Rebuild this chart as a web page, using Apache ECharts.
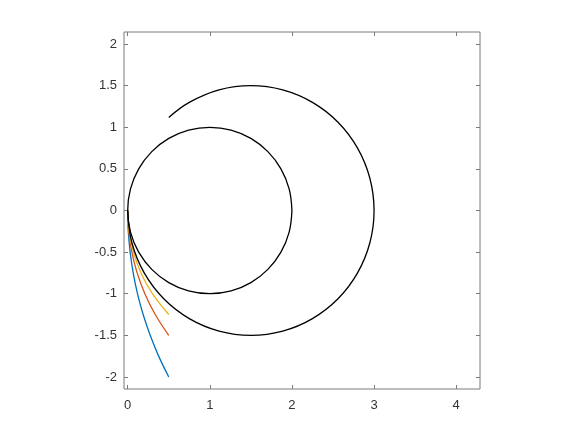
<!DOCTYPE html>
<html>
<head>
<meta charset="utf-8">
<script src="https://cdn.jsdelivr.net/npm/echarts@6/dist/echarts.min.js"></script>
<style>
html, body { margin: 0; padding: 0; background: #fff; }
#chart { width: 584px; height: 438px; }
</style>
</head>
<body>
<div id="chart"></div>
<script>
// tick labels
var xTicks = [0, 1, 2, 3, 4];
var yTicks = [-2, -1.5, -1, -0.5, 0, 0.5, 1, 1.5, 2];

// small black circle (x, y)
var innerCircle = [
    [2, 0], [1.966, 0.259], [1.866, 0.5], [1.707, 0.707], [1.5, 0.866], [1.259, 0.966],
    [1, 1], [0.741, 0.966], [0.5, 0.866], [0.293, 0.707], [0.134, 0.5], [0.034, 0.259],
    [0, 0], [0.034, -0.259], [0.134, -0.5], [0.293, -0.707], [0.5, -0.866], [0.741, -0.966],
    [1, -1], [1.259, -0.966], [1.5, -0.866], [1.707, -0.707], [1.866, -0.5], [1.966, -0.259],
    [2, 0]
];

// big black arc, starts at (0.5, 1.12) and ends in the origin
var outerArc = [
    [0.5, 1.118], [0.75, 1.299], [1.112, 1.449], [1.5, 1.5], [1.888, 1.449], [2.25, 1.299],
    [2.561, 1.061], [2.799, 0.75], [2.949, 0.388], [3, 0], [2.949, -0.388], [2.799, -0.75],
    [2.561, -1.061], [2.25, -1.299], [1.888, -1.449], [1.5, -1.5], [1.112, -1.449],
    [0.75, -1.299], [0.439, -1.061], [0.201, -0.75], [0.051, -0.388], [0, 0]
];

// coloured branches from the origin down to x = 0.5
var blueCurve = [
    [0, 0], [0.007, -0.25], [0.03, -0.5], [0.067, -0.75], [0.119, -1], [0.188, -1.25],
    [0.274, -1.5], [0.377, -1.75], [0.5, -2]
];
var redCurve = [
    [0, 0], [0.013, -0.25], [0.051, -0.5], [0.115, -0.75], [0.209, -1], [0.335, -1.25],
    [0.5, -1.5]
];
var yellowCurve = [
    [0, 0], [0.017, -0.25], [0.07, -0.5], [0.162, -0.75], [0.301, -1], [0.5, -1.25]
];

var chart = echarts.init(document.getElementById('chart'));

var axisColor = '#7a7a7a';
var labelStyle = {
    color: '#333',
    fontSize: 13,
    fontFamily: 'Liberation Sans, Arial, sans-serif'
};

function lineSeries(data, color) {
    return {
        type: 'line',
        data: data,
        smooth: 0.4,
        showSymbol: false,
        silent: true,
        animation: false,
        lineStyle: { color: color, width: 1.3 }
    };
}

// one axis per side of the box, ticks pointing inwards like matlab
function sideAxis(pos, min, max, ticks, withLabels, margin) {
    return {
        type: 'value',
        min: min,
        max: max,
        position: pos,
        axisLine: { show: false, onZero: false },
        splitLine: { show: false },
        axisTick: {
            inside: true, length: 4, customValues: ticks,
            lineStyle: { color: axisColor }
        },
        axisLabel: withLabels
            ? Object.assign({ margin: margin, customValues: ticks }, labelStyle)
            : { show: false }
    };
}

var option = {
    animation: false,
    grid: {
        left: 124,
        top: 32,
        right: 104,
        bottom: 49,
        show: true,
        borderColor: axisColor,
        borderWidth: 1
    },
    xAxis: [
        sideAxis('bottom', -0.045, 4.29, xTicks, true, 10),
        sideAxis('top', -0.045, 4.29, xTicks, false)
    ],
    yAxis: [
        sideAxis('left', -2.145, 2.145, yTicks, true, 7),
        sideAxis('right', -2.145, 2.145, yTicks, false)
    ],
    series: [
        lineSeries(blueCurve, '#0072BD'),
        lineSeries(redCurve, '#D95319'),
        lineSeries(yellowCurve, '#EDB120'),
        lineSeries(innerCircle, '#000'),
        lineSeries(outerArc, '#000')
    ]
};

chart.setOption(option);
</script>
</body>
</html>
